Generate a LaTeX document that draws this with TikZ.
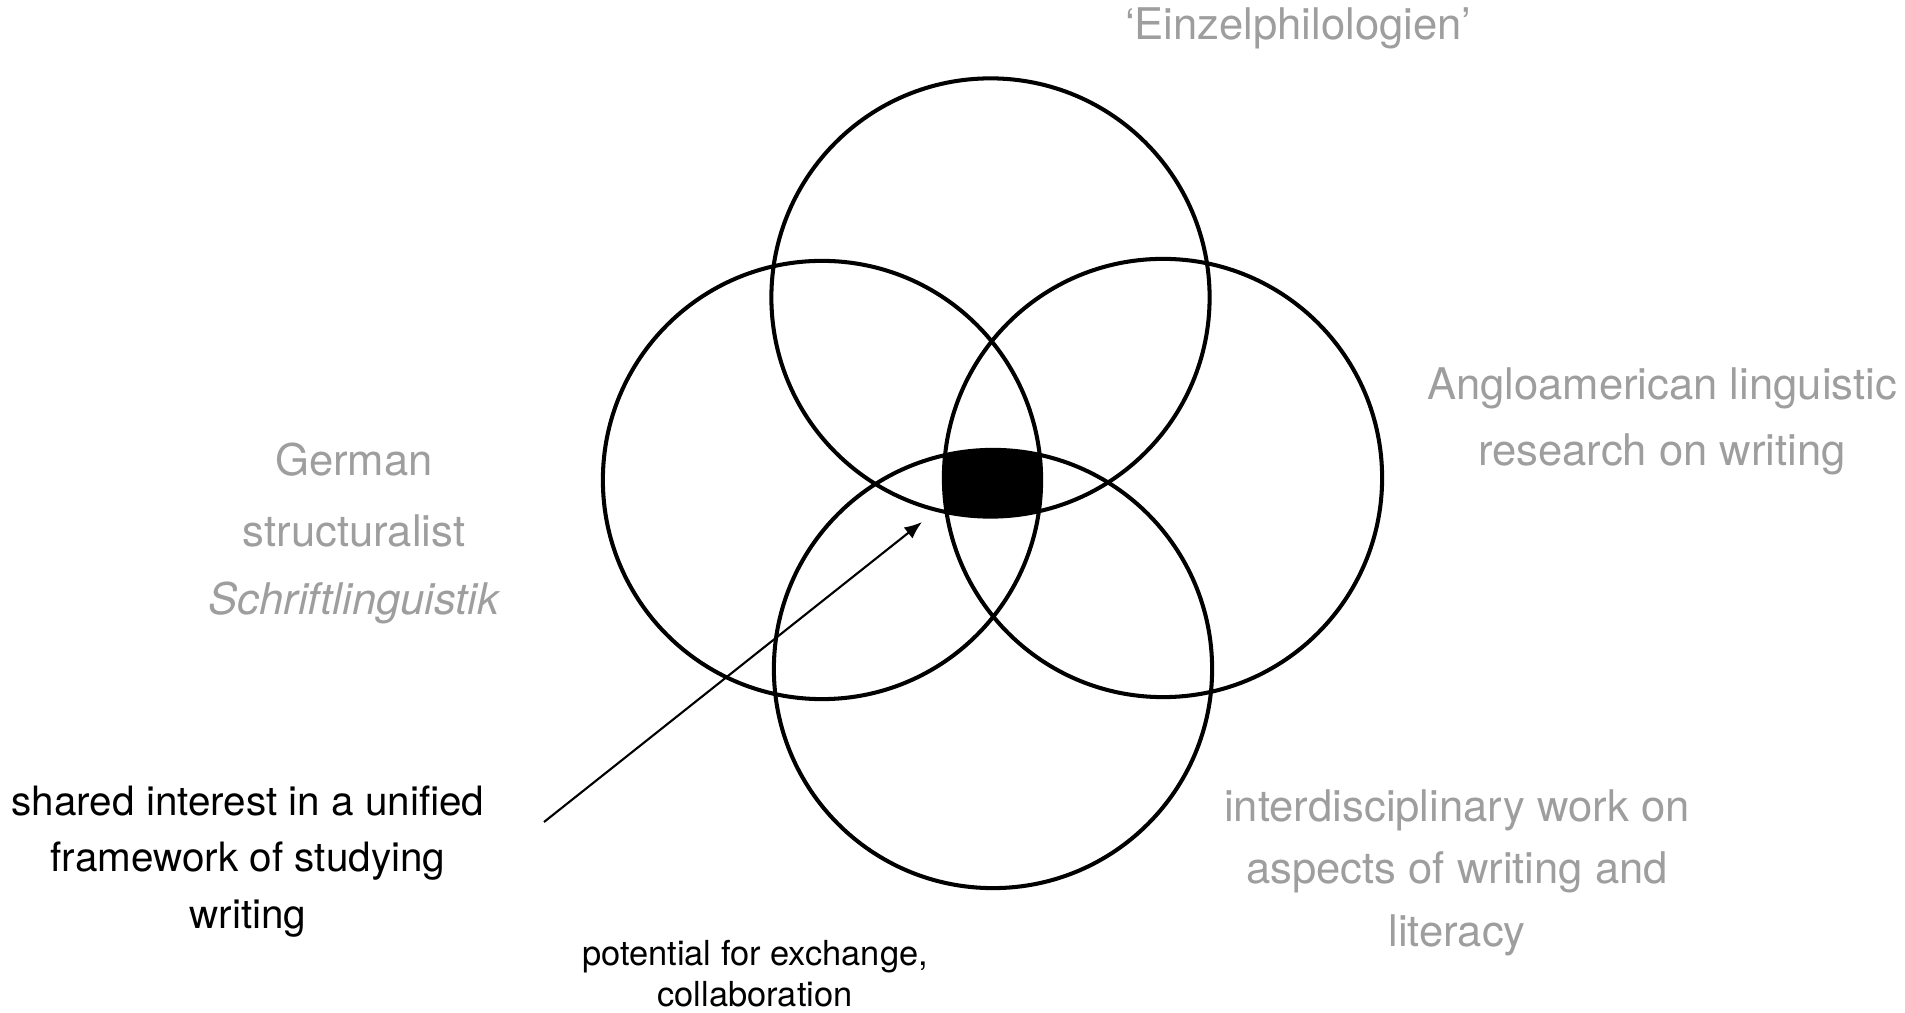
\documentclass[tikz,border=0pt]{standalone}
\usepackage{fontspec}
\setmainfont{TeX Gyre Heros}
\usetikzlibrary{arrows.meta}
\definecolor{labelgray}{RGB}{158,158,158}
\tikzset{
  ring/.style={draw=black,line width=1.15pt},
  graylab/.style={anchor=base,inner sep=0pt,text=labelgray,font=\fontsize{12.4pt}{15pt}\selectfont},
  blacklab/.style={anchor=base,inner sep=0pt,text=black,font=\fontsize{11.5pt}{14pt}\selectfont},
  smalllab/.style={anchor=base,inner sep=0pt,text=black,font=\fontsize{9.8pt}{12pt}\selectfont},
  pointer/.style={draw=black,line width=0.6pt,-{Latex[length=5pt,width=4pt]}}
}
\begin{document}
\begin{tikzpicture}[x=0.01cm,y=-0.01cm]
\useasboundingbox (0,0) rectangle (1905,1013);
\coordinate (cT) at (990.5,297.5);
\coordinate (cL) at (822,480);
\coordinate (cR) at (1163,478);
\coordinate (cB) at (993,669);
% black intersection of all four circles
\begin{scope}
  \clip (cT) circle (2.19cm);
  \clip (cL) circle (2.19cm);
  \clip (cR) circle (2.19cm);
  \clip (cB) circle (2.19cm);
  \fill[black] (900,400) rectangle (1100,560);
\end{scope}
\draw[ring] (cT) circle (2.19cm);
\draw[ring] (cL) circle (2.19cm);
\draw[ring] (cR) circle (2.19cm);
\draw[ring] (cB) circle (2.19cm);
% labels
\node[graylab] (einzel) at (1298,40) {‘Einzelphilologien’};
\node[graylab] (ger1) at (354,476) {German};
\node[graylab] (ger2) at (354,547) {structuralist};
\node[graylab] (ger3) at (354,615) {\itshape Schriftlinguistik};
\node[graylab] (ang1) at (1662,400) {Angloamerican linguistic};
\node[graylab] (ang2) at (1662,466) {research on writing};
\node[graylab] (int1) at (1457,822) {interdisciplinary work on};
\node[graylab] (int2) at (1457,884) {aspects of writing and};
\node[graylab] (int3) at (1457,947) {literacy};
\node[blacklab] (sh1) at (248,816) {shared interest in a unified};
\node[blacklab] (sh2) at (248,872) {framework of studying};
\node[blacklab] (sh3) at (248,929) {writing};
\node[smalllab] (pot1) at (755,966) {potential for exchange,};
\node[smalllab] (pot2) at (755,1007) {collaboration};
\coordinate (arrowtail) at (544,822);
\coordinate (arrowtip) at (922,522);
\draw[pointer] (arrowtail) -- (arrowtip);
\end{tikzpicture}
\end{document}
